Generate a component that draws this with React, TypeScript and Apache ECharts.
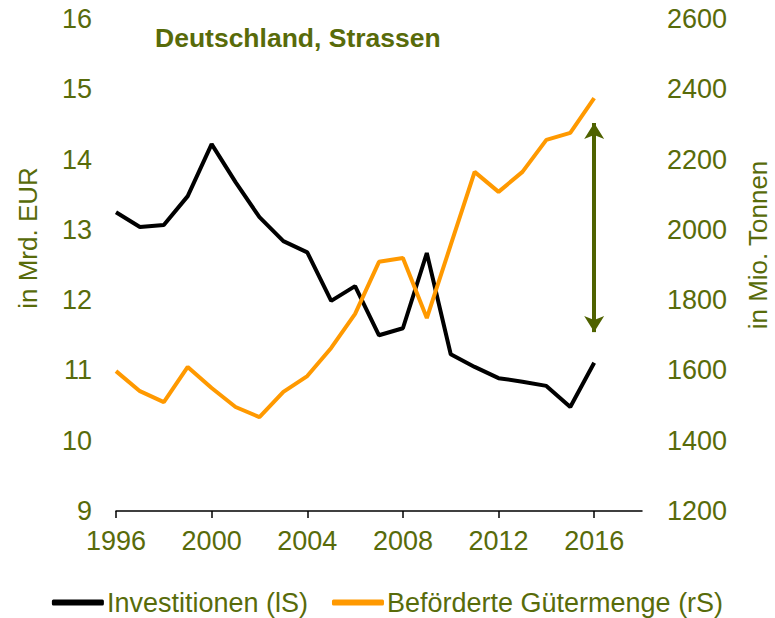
import React, { useEffect, useRef } from "react";
import * as echarts from "echarts";

const years = ["1996","1997","1998","1999","2000","2001","2002","2003","2004","2005","2006","2007","2008","2009","2010","2011","2012","2013","2014","2015","2016","2017","2018"];
const investitionen = [13.25,13.04,13.07,13.48,14.22,13.68,13.18,12.84,12.68,11.99,12.2,11.5,11.6,12.67,11.23,11.05,10.89,10.84,10.78,10.48,11.11];
const guetermenge = [1598,1541,1510,1610,1550,1496,1467,1539,1584,1664,1761,1909,1920,1749,1957,2165,2108,2165,2256,2276,2375];
const arrowYear = "2016";
const arrowRange = [2304, 1709];

const OLIVE = "#586b0a";
const FONT = "Liberation Sans, Arial, sans-serif";
const FS = 27;

export default function App() {
  const ref = useRef<HTMLDivElement>(null);
  useEffect(() => {
    const chart = echarts.init(ref.current!, null, { renderer: "svg" });
    chart.setOption({
      animation: false,
      textStyle: { fontFamily: FONT },
      grid: { left: 116, right: 133, top: 19, bottom: 107, containLabel: false },
      title: {
        text: "Deutschland, Strassen",
        left: 150,
        top: 19,
        textStyle: { color: OLIVE, fontSize: 26.5, fontWeight: "bold", fontFamily: FONT },
      },
      legend: {
        top: 589,
        padding: 0,
        left: "center",
        itemWidth: 52,
        itemHeight: 6,
        itemGap: 24,
        icon: "roundRect",
        textStyle: { color: OLIVE, fontSize: FS, fontFamily: FONT, padding: [0, 0, 0, -2] },
        data: ["Investitionen (lS)", "Beförderte Gütermenge (rS)"],
      },
      xAxis: {
        type: "category",
        data: years,
        boundaryGap: false,
        axisLine: { show: true, lineStyle: { color: "#000", width: 1.5 } },
        axisTick: { show: true, interval: 3, length: 7, lineStyle: { color: "#000", width: 1.5 } },
        axisLabel: { interval: 3, color: OLIVE, fontSize: FS, margin: 16, fontFamily: FONT },
        splitLine: { show: false },
      },
      yAxis: [
        {
          type: "value",
          min: 9,
          max: 16,
          interval: 1,
          axisLine: { show: false },
          axisTick: { show: false },
          splitLine: { show: false },
          axisLabel: { color: OLIVE, fontSize: FS, margin: 24, fontFamily: FONT },
        },
        {
          type: "value",
          min: 1200,
          max: 2600,
          interval: 200,
          position: "right",
          axisLine: { show: false },
          axisTick: { show: false },
          splitLine: { show: false },
          axisLabel: { color: OLIVE, fontSize: FS, margin: 25, fontFamily: FONT, formatter: (v: number) => String(v) },
        },
      ],
      graphic: [
        {
          type: "text",
          x: 28,
          y: 238,
          rotation: Math.PI / 2,
          style: { text: "in Mrd. EUR", fill: OLIVE, fontSize: 26, fontFamily: FONT, align: "center", verticalAlign: "middle" },
        },
        {
          type: "text",
          x: 758,
          y: 245,
          rotation: Math.PI / 2,
          style: { text: "in Mio. Tonnen", fill: OLIVE, fontSize: 26, fontFamily: FONT, align: "center", verticalAlign: "middle" },
        },
      ],
      series: [
        {
          name: "Investitionen (lS)",
          type: "line",
          yAxisIndex: 0,
          data: investitionen,
          symbol: "none",
          lineStyle: { color: "#000", width: 4 },
          itemStyle: { color: "#000" },
        },
        {
          name: "Beförderte Gütermenge (rS)",
          type: "line",
          yAxisIndex: 1,
          data: guetermenge,
          symbol: "none",
          lineStyle: { color: "#ff9900", width: 4 },
          itemStyle: { color: "#ff9900" },
          markLine: {
            silent: true,
            symbol: ["arrow", "arrow"],
            symbolSize: [15, 16],
            label: { show: false },
            lineStyle: { color: "#4f6200", width: 4, type: "solid" },
            data: [[{ coord: [arrowYear, arrowRange[0]] }, { coord: [arrowYear, arrowRange[1]] }]],
          },
        },
      ],
    });
    return () => chart.dispose();
  }, []);
  return <div ref={ref} style={{ position: "absolute", left: 0, top: 0, width: 775, height: 618 }} />;
}
